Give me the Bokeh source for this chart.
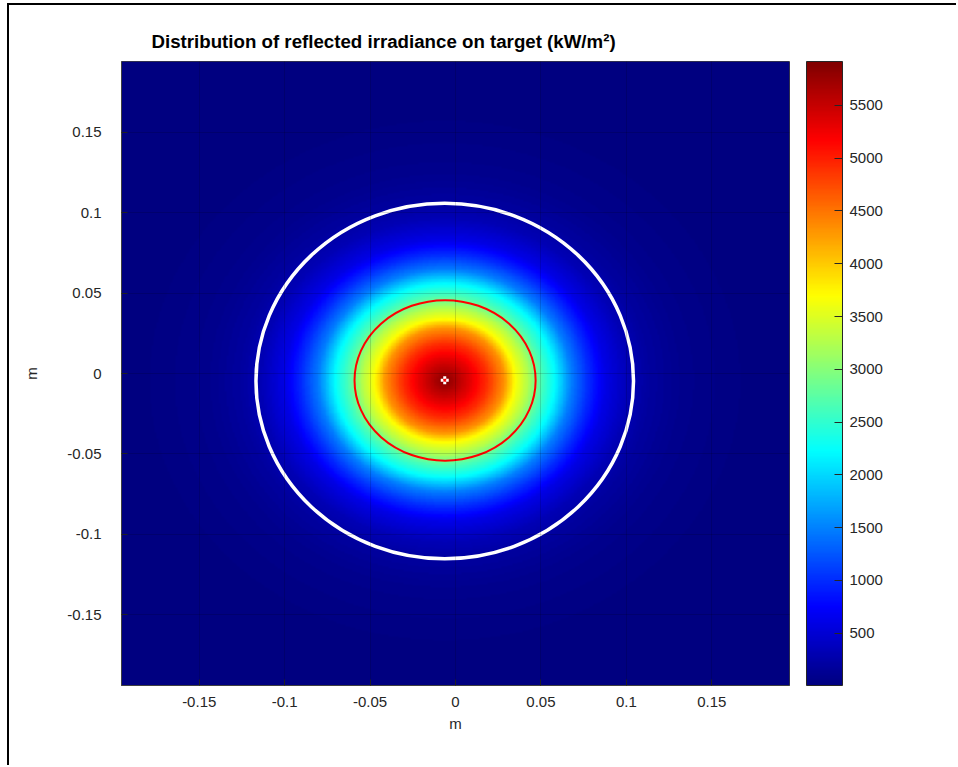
import numpy as np
from bokeh.plotting import figure
from bokeh.models import LinearColorMapper, ColorBar, FixedTicker, CustomJSTickFormatter
from bokeh.embed import file_html
from bokeh.resources import INLINE

# ---- data ----
title_text = "Distribution of reflected irradiance on target (kW/m²)"
x_label = "m"
y_label = "m"
x_ticks = [-0.15, -0.1, -0.05, 0, 0.05, 0.1, 0.15]
y_ticks = [-0.15, -0.1, -0.05, 0, 0.05, 0.1, 0.15]
cbar_ticks = [500, 1000, 1500, 2000, 2500, 3000, 3500, 4000, 4500, 5000, 5500]
cbar_low = 5
cbar_high = 5916
x_extent = [-0.1955, 0.1955]
y_extent = [-0.194, 0.194]

# irradiance radial profile (kW/m2) along the x direction from the spot centre
profile_radius_m = [0.0, 0.0034, 0.015, 0.025, 0.035, 0.041, 0.0486, 0.0563,
                    0.0645, 0.074, 0.084, 0.094, 0.1075, 0.12, 0.14, 0.17, 0.2, 0.3]
profile_kw = [5900, 5740, 5320, 4900, 4320, 3700, 3250, 2665,
              2220, 1480, 1000, 600, 330, 190, 85, 30, 12, 5]
spot_center = [-0.0062, -0.0045]
spot_y_stretch = 1.07   # spot is narrower along y

outer_circle_center = [-0.0063, -0.0047]
outer_circle_radius = 0.1105
inner_ellipse_center = [-0.0061, -0.0043]
inner_ellipse_axes = [0.053, 0.0499]
peak_point = [-0.0063, -0.0042]

# ---- jet colormap ----
def jet_palette(n=256):
    t = np.linspace(0, 1, n)
    r = np.clip(1.5 - np.abs(4 * t - 3), 0, 1)
    g = np.clip(1.5 - np.abs(4 * t - 2), 0, 1)
    b = np.clip(1.5 - np.abs(4 * t - 1), 0, 1)
    return ["#%02x%02x%02x" % (int(round(a * 255)), int(round(c * 255)), int(round(d * 255)))
            for a, c, d in zip(r, g, b)]

palette = jet_palette()
mapper = LinearColorMapper(palette=palette, low=cbar_low, high=cbar_high)

# ---- build field from the profile ----
nx, ny = 420, 420
xs = np.linspace(x_extent[0], x_extent[1], nx)
ys = np.linspace(y_extent[0], y_extent[1], ny)
X, Y = np.meshgrid(xs, ys)
rho = np.sqrt((X - spot_center[0]) ** 2 + (spot_y_stretch * (Y - spot_center[1])) ** 2)
Z = np.interp(rho, profile_radius_m, profile_kw)

FONT = "Liberation Sans"
AX = "#262626"

p = figure(width=949, height=762, x_range=tuple(x_extent), y_range=tuple(y_extent),
           output_backend="svg", toolbar_location=None,
           min_border_left=112, min_border_right=169, min_border_top=56, min_border_bottom=82,
           title=title_text)
p.styles = {"margin-left": "7px", "margin-top": "3px",
            "border-left": "2px solid black", "border-top": "2px solid black"}

p.image(image=[Z], x=x_extent[0], y=y_extent[0], dw=x_extent[1] - x_extent[0],
        dh=y_extent[1] - y_extent[0], color_mapper=mapper)

p.ellipse(x=[outer_circle_center[0]], y=[outer_circle_center[1]],
          width=[2 * outer_circle_radius], height=[2 * outer_circle_radius],
          fill_color=None, line_color="white", line_width=3.5)
p.ellipse(x=[inner_ellipse_center[0]], y=[inner_ellipse_center[1]],
          width=[2 * inner_ellipse_axes[0]], height=[2 * inner_ellipse_axes[1]],
          fill_color=None, line_color="#ff0000", line_width=2)
p.scatter(x=[peak_point[0]], y=[peak_point[1]], marker="cross", size=8,
          line_color="white", line_width=3)
p.scatter(x=[peak_point[0]], y=[peak_point[1]], marker="x", size=3.5,
          line_color="#ff0000", line_width=1.5)

fmt = CustomJSTickFormatter(code="return tick.toString();")
for ax, ticks, lab in ((p.xaxis[0], x_ticks, x_label), (p.yaxis[0], y_ticks, y_label)):
    ax.ticker = FixedTicker(ticks=ticks)
    ax.formatter = fmt
    ax.axis_label = lab
    ax.axis_label_text_font = FONT
    ax.axis_label_text_font_size = "15px"
    ax.axis_label_text_font_style = "normal"
    ax.axis_label_text_color = AX
    ax.major_label_text_font = FONT
    ax.major_label_text_font_size = "15px"
    ax.major_label_text_color = AX
    ax.major_tick_in = 6
    ax.major_tick_out = 0
    ax.minor_tick_in = 0
    ax.minor_tick_out = 0
    ax.axis_line_color = "#404040"
    ax.major_tick_line_color = AX

p.yaxis.major_label_standoff = 20
p.yaxis.axis_label_standoff = 24
p.xaxis.major_label_standoff = 11
p.xaxis.axis_label_standoff = 5

for g in (p.xgrid[0], p.ygrid[0]):
    g.level = "overlay"
    g.grid_line_color = "#000000"
    g.grid_line_alpha = 0.15

p.outline_line_color = "#404040"
p.background_fill_color = "white"
p.border_fill_color = "white"

p.title.text_font = FONT
p.title.text_font_size = "18.7px"
p.title.text_font_style = "bold"
p.title.text_color = "black"
p.title.align = "left"
p.title.offset = 30
p.title.standoff = 20

cb = ColorBar(color_mapper=mapper, ticker=FixedTicker(ticks=cbar_ticks),
              width=36, height=624, location=(17, 0), margin=0, padding=0,
              bar_line_color=AX, bar_line_width=1,
              major_tick_in=8, major_tick_out=0, major_tick_line_color=AX,
              minor_tick_in=0, minor_tick_out=0,
              major_label_text_font=FONT, major_label_text_font_size="15px",
              major_label_text_color=AX, label_standoff=7,
              background_fill_alpha=0)
p.add_layout(cb, "right")

open("out.html", "w").write(file_html(p, INLINE))
